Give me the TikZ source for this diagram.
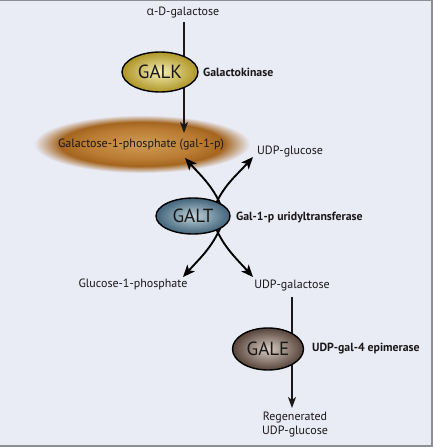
\documentclass[tikz,border=0pt]{standalone}
\usepackage{fontspec}
\setmainfont{PT Sans}
\newfontfamily\grk{Open Sans}
\usetikzlibrary{arrows.meta,shapes.geometric}
\definecolor{bgc}{HTML}{E9EBF5}
\definecolor{frame}{HTML}{8C8F96}
\definecolor{ink}{HTML}{1A1718}
\definecolor{glowin}{HTML}{CE9C55}
\definecolor{glowmid}{HTML}{BB7C34}
\definecolor{glowout}{HTML}{A4651F}
\definecolor{galkin}{HTML}{F5EEB4}
\definecolor{galkout}{HTML}{AD9424}
\definecolor{galtin}{HTML}{BFD2D9}
\definecolor{galtout}{HTML}{41637A}
\definecolor{galein}{HTML}{D8CCC2}
\definecolor{galeout}{HTML}{56433A}
\pgfdeclareradialshading{glow}{\pgfpoint{0bp}{0bp}}{color(0bp)=(glowin); color(13bp)=(glowmid); color(19bp)=(glowout); color(25bp)=(bgc); color(50bp)=(bgc)}
\tikzset{
  lbl/.style={font=\fontsize{12}{14}\selectfont, text=ink, inner sep=0pt},
  enzlbl/.style={font=\bfseries\fontsize{11.8}{14}\selectfont, text=ink, inner sep=0pt, anchor=west},
  enzyme/.style={ellipse, draw=black, line width=1.4pt, minimum width=#1, font=\fontsize{19}{21}\selectfont, text=ink, inner sep=0pt},
  straight/.style={draw=ink, line width=1.2pt, -{Stealth[length=11pt,width=8pt,inset=3pt]}},
  curved/.style={draw=black, line width=1.9pt, -{Stealth[length=12pt,width=10pt,inset=3pt]}},
}
\begin{document}
\begin{tikzpicture}[x=1pt,y=1pt]
\useasboundingbox (0,0) rectangle (433,-447);
\fill[bgc] (0,0) rectangle (433,-447);
\fill[frame] (0,0) rectangle (433,-1.2);
\fill[frame] (430.5,0) rectangle (433,-447);
\fill[frame] (0,-444.5) rectangle (433,-447);
% glow
\shade[shading=glow] (142,-144) ellipse [x radius=108, y radius=29];
% texts
\node[lbl] (alpha) at (183,-13) {{\grk α}-D-galactose};
\node[lbl] (g1p) at (141,-145) {Galactose-1-phosphate (gal-1-p)};
\node[lbl] (udpg) at (290,-152) {UDP-glucose};
\node[lbl] (glc1p) at (133,-284) {Glucose-1-phosphate};
\node[lbl] (udpgal) at (292,-286) {UDP-galactose};
\node[lbl, align=center] (regen) at (295,-425) {Regenerated\\[0pt]UDP-glucose};
% straight arrows
\coordinate (a1s) at (184,-22);
\coordinate (a1e) at (184,-133);
\draw[straight] (a1s) -- (a1e);
\coordinate (a2s) at (292,-297);
\coordinate (a2e) at (292,-408);
\draw[straight] (a2s) -- (a2e);
% curved arrows around GALT
\coordinate (ulS) at (223.5,-212);
\coordinate (urS) at (212.5,-212);
\coordinate (llS) at (223.5,-220);
\coordinate (lrS) at (212.5,-220);
\coordinate (ulE) at (185,-158);
\coordinate (urE) at (253,-157);
\coordinate (llE) at (183,-277);
\coordinate (lrE) at (253,-277);
\draw[curved] (ulS) to[out=110,in=-48] (ulE);
\draw[curved] (urS) to[out=70,in=-132] (urE);
\draw[curved] (llS) to[out=-110,in=48] (llE);
\draw[curved] (lrS) to[out=-70,in=132] (lrE);
% enzymes
\node[enzyme=76pt, minimum height=40pt, inner color=galkin, outer color=galkout] (galk) at (160,-72) {GALK};
\node[enzlbl] (galklbl) at (203,-72) {Galactokinase};
\node[enzyme=74pt, minimum height=36pt, inner color=galtin, outer color=galtout] (galt) at (193,-216) {GALT};
\node[enzlbl] (galtlbl) at (236,-217) {Gal-1-p uridyltransferase};
\node[enzyme=71pt, minimum height=42pt, inner color=galein, outer color=galeout] (gale) at (268,-349) {GALE};
\node[enzlbl] (galelbl) at (312,-349) {UDP-gal-4 epimerase};
\end{tikzpicture}
\end{document}
